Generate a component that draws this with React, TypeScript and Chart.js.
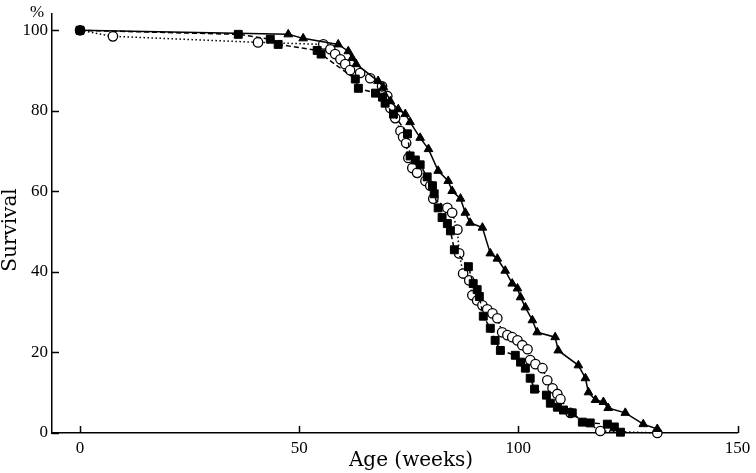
import React, { useEffect, useRef } from 'react';
import { Chart, registerables } from 'chart.js';
Chart.register(...registerables);

const xTickValues = [0, 50, 100, 150];
const yTickValues = [0, 20, 40, 60, 80, 100];

const triangleWeeks = [0, 47.5, 50.9, 58.9, 61.2, 62.1, 63.0, 68.0, 69.2, 70.8, 72.6, 74.2, 75.3, 77.6, 79.5, 81.7, 84.0, 84.9, 86.8, 87.9, 89.0, 91.8, 93.6, 95.2, 97.0, 98.6, 99.8, 100.5, 101.6, 103.2, 104.3, 108.4, 109.1, 113.7, 115.3, 116.0, 117.6, 119.4, 120.5, 124.4, 128.5, 131.7];
const triangleSurvival = [100, 99.0, 98.0, 96.5, 94.8, 93.1, 91.6, 87.4, 85.9, 82.4, 80.4, 79.2, 77.2, 73.3, 70.5, 65.1, 62.6, 60.1, 58.2, 54.7, 52.2, 51.0, 44.6, 43.3, 40.3, 37.1, 35.9, 33.7, 31.2, 28.0, 25.0, 23.8, 20.5, 16.8, 13.6, 10.1, 8.2, 7.7, 6.2, 5.0, 2.2, 1.0];

const circleWeeks = [0, 7.5, 40.6, 55.5, 57.1, 58.2, 59.4, 60.5, 61.6, 63.9, 66.2, 68.9, 70.1, 70.8, 71.9, 73.1, 73.7, 74.4, 74.9, 75.8, 76.9, 78.8, 79.9, 80.6, 83.8, 84.9, 86.1, 86.5, 87.4, 88.8, 89.5, 90.6, 91.8, 92.9, 94.1, 95.2, 96.3, 97.5, 98.6, 99.8, 100.9, 102.1, 102.7, 103.9, 105.5, 106.6, 107.8, 108.9, 109.6, 111.9, 118.7, 131.7];
const circleSurvival = [100, 98.5, 97.0, 96.5, 95.3, 94.1, 92.8, 91.6, 90.1, 89.4, 88.1, 86.1, 83.7, 80.7, 78.2, 75.0, 73.5, 72.0, 68.3, 65.8, 64.6, 62.6, 61.4, 58.2, 55.9, 54.7, 50.5, 44.6, 39.6, 37.9, 34.2, 32.9, 31.7, 30.7, 29.7, 28.5, 25.0, 24.3, 23.8, 23.0, 21.8, 20.8, 18.1, 17.1, 16.1, 13.1, 11.1, 9.7, 8.4, 5.0, 0.5, 0];

const squareWeeks = [0, 36.1, 43.4, 45.2, 54.1, 55.0, 62.8, 63.5, 67.4, 69.0, 69.6, 71.5, 74.7, 75.3, 76.5, 77.6, 79.2, 80.4, 80.8, 81.7, 82.6, 83.8, 84.5, 85.4, 88.6, 89.7, 90.6, 91.1, 92.0, 93.6, 94.7, 95.9, 99.3, 100.5, 101.6, 102.7, 103.7, 106.4, 107.3, 108.9, 110.3, 112.3, 114.6, 116.4, 120.3, 121.9, 123.3];
const squareSurvival = [100, 99.0, 97.8, 96.5, 95.0, 94.1, 87.9, 85.6, 84.4, 83.4, 81.9, 79.2, 74.3, 68.8, 67.8, 66.6, 63.6, 61.4, 59.4, 55.9, 53.5, 52.0, 50.2, 45.5, 41.3, 37.1, 35.6, 33.9, 29.0, 26.0, 23.0, 20.5, 19.3, 17.6, 16.1, 13.6, 10.9, 9.4, 7.4, 6.4, 5.7, 5.0, 2.7, 2.5, 2.2, 1.5, 0.2];

const xTitle = 'Age (weeks)';
const yTitle = 'Survival';
const yUnit = '%';

const FONT = '"Liberation Serif", "Times New Roman", serif';
const TITLE_FONT = '"DejaVu Serif", "Liberation Serif", serif';

function toPoints(xs: number[], ys: number[]) {
  return xs.map((x, i) => ({ x, y: ys[i] }));
}

export default function App() {
  const ref = useRef<HTMLCanvasElement>(null);

  useEffect(() => {
    if (!ref.current) return;

    const decor = {
      id: 'decor',
      afterDraw(chart: any) {
        const { ctx, chartArea } = chart;
        const xs = chart.scales.x;
        const ys = chart.scales.y;
        ctx.save();
        ctx.strokeStyle = '#000';
        ctx.lineWidth = 1.5;
        ctx.beginPath();
        yTickValues.forEach((v) => {
          const py = Math.round(ys.getPixelForValue(v)) + 0.5;
          ctx.moveTo(chartArea.left, py);
          ctx.lineTo(chartArea.left + 7, py);
        });
        xTickValues.forEach((v) => {
          const px = Math.round(xs.getPixelForValue(v)) + 0.5;
          ctx.moveTo(px, chartArea.bottom);
          ctx.lineTo(px, chartArea.bottom - 7);
        });
        ctx.stroke();

        ctx.fillStyle = '#000';
        ctx.textAlign = 'center';
        ctx.textBaseline = 'middle';
        ctx.font = `17px ${FONT}`;
        ctx.fillText(yUnit, chartArea.left - 15, chartArea.top - 2);

        ctx.font = `20px ${TITLE_FONT}`;
        ctx.fillText(xTitle, 411, 461);

        ctx.save();
        ctx.translate(11, 230);
        ctx.rotate(-Math.PI / 2);
        ctx.fillText(yTitle, 0, 0);
        ctx.restore();
        ctx.restore();
      },
    };

    const chart = new Chart(ref.current, {
      type: 'scatter',
      data: {
        datasets: [
          {
            label: 'squares',
            data: toPoints(squareWeeks, squareSurvival),
            showLine: true,
            borderColor: '#000',
            backgroundColor: '#000',
            borderWidth: 1.5,
            borderDash: [5, 3],
            pointStyle: 'rect',
            pointRadius: 5.6,
            pointBorderWidth: 1,
            pointBackgroundColor: '#000',
            pointBorderColor: '#000',
            clip: false,
          } as any,
          {
            label: 'triangles',
            data: toPoints(triangleWeeks, triangleSurvival),
            showLine: true,
            borderColor: '#000',
            backgroundColor: '#000',
            borderWidth: 1.5,
            pointStyle: 'triangle',
            pointRadius: 5,
            pointBorderWidth: 1,
            pointBackgroundColor: '#000',
            pointBorderColor: '#000',
            clip: false,
          } as any,
          {
            label: 'circles',
            data: toPoints(circleWeeks, circleSurvival),
            showLine: true,
            borderColor: '#000',
            backgroundColor: '#fff',
            borderWidth: 1.5,
            borderDash: [1.5, 2.5],
            pointStyle: 'circle',
            pointRadius: 4.7,
            pointBorderWidth: 1.3,
            pointBackgroundColor: '#fff',
            pointBorderColor: '#000',
            clip: false,
          } as any,
        ],
      },
      options: {
        responsive: false,
        animation: false,
        layout: { padding: { top: 13, right: 18.5, left: 0, bottom: 0 } },
        plugins: {
          legend: { display: false },
          tooltip: { enabled: false },
        },
        scales: {
          x: {
            type: 'linear',
            min: -6.4,
            max: 150,
            afterFit: (s: any) => { s.height = 40; },
            afterBuildTicks: (s: any) => { s.ticks = xTickValues.map((v) => ({ value: v })); },
            grid: { display: false, drawTicks: false },
            border: { display: true, color: '#000', width: 1.5 },
            ticks: {
              color: '#000',
              padding: 5,
              font: { family: FONT, size: 17 },
              maxRotation: 0,
              autoSkip: false,
            },
          },
          y: {
            type: 'linear',
            min: 0,
            max: 104,
            afterFit: (s: any) => { s.width = 52; },
            afterBuildTicks: (s: any) => { s.ticks = yTickValues.map((v) => ({ value: v })); },
            grid: { display: false, drawTicks: false },
            border: { display: true, color: '#000', width: 1.5 },
            ticks: {
              color: '#000',
              padding: 4,
              font: { family: FONT, size: 17 },
              autoSkip: false,
            },
          },
        },
      } as any,
      plugins: [decor],
    });

    return () => chart.destroy();
  }, []);

  return (
    <div style={{ position: 'absolute', left: 0, top: 0, width: 756, height: 473, background: '#fff' }}>
      <canvas ref={ref} width={756} height={473} />
    </div>
  );
}
